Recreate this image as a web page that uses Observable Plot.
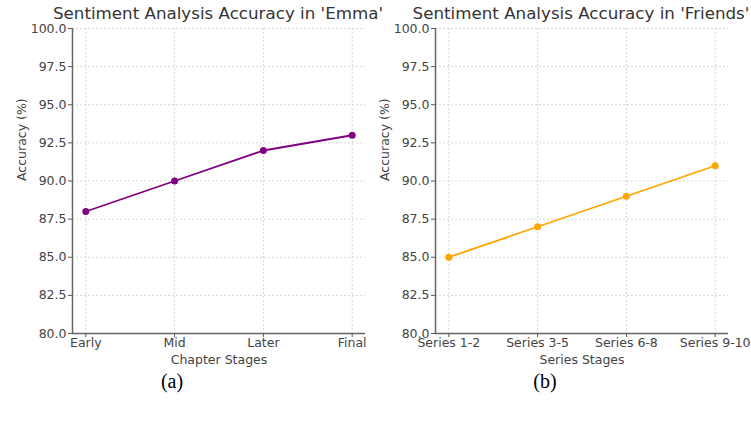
<!DOCTYPE html>
<html>
<head>
<meta charset="utf-8">
<script src="https://cdn.jsdelivr.net/npm/d3@7"></script>
<script src="https://cdn.jsdelivr.net/npm/@observablehq/plot@0.6"></script>
<style>
  html, body { margin: 0; padding: 0; background: #fff; }
  #wrap { position: relative; width: 751px; height: 423px; overflow: hidden; font-family: "DejaVu Sans", sans-serif; }
  .panel { position: absolute; top: 0; }
  .panel svg { overflow: visible; }
  .title { position: absolute; top: 3px; font-size: 16.7px; color: #333; white-space: nowrap; transform: translateX(-50%); }
  .cap { position: absolute; font-family: "Liberation Serif", "Times New Roman", serif; font-size: 20px; color: #000; transform: translate(-50%, -50%); }
</style>
</head>
<body>
<div id="wrap"></div>
<script>
const emmaStages = ["Early", "Mid", "Later", "Final"];
const emmaAccuracy = [88, 90, 92, 93];
const friendsStages = ["Series 1-2", "Series 3-5", "Series 6-8", "Series 9-10"];
const friendsAccuracy = [85, 87, 89, 91];
const yTicks = [80, 82.5, 85, 87.5, 90, 92.5, 95, 97.5, 100];
const titles = ["Sentiment Analysis Accuracy in 'Emma'", "Sentiment Analysis Accuracy in 'Friends'"];
const xLabels = ["Chapter Stages", "Series Stages"];
const captions = ["(a)", "(b)"];

function panel(stages, values, color, xLabel) {
  const data = stages.map((s, i) => ({i, s, v: values[i]}));
  const idx = stages.map((_, i) => i);
  return Plot.plot({
    width: 375,
    height: 370,
    marginLeft: 72,
    marginRight: 10,
    marginTop: 28,
    marginBottom: 37,
    style: {fontFamily: "DejaVu Sans, sans-serif", fontSize: "12.5px", color: "#444", background: "transparent", overflow: "visible"},
    x: {type: "linear", domain: [-0.15, 3.15]},
    y: {domain: [80, 100]},
    marks: [
      Plot.gridX(idx, {stroke: "#ccc", strokeOpacity: 1, strokeDasharray: "2,2", strokeWidth: 0.8}),
      Plot.gridY(yTicks, {stroke: "#ccc", strokeOpacity: 1, strokeDasharray: "2,2", strokeWidth: 0.8}),
      Plot.axisY(yTicks, {tickFormat: d3.format(".1f"), tickSize: 4, tickPadding: 2, stroke: "#555", label: null, fontSize: 12.5}),
      Plot.axisX(idx, {tickFormat: i => stages[i], tickSize: 4, tickPadding: 1, stroke: "#555", label: null, fontSize: 12.5}),
      Plot.ruleY([80], {stroke: "#666", strokeWidth: 1.5}),
      Plot.ruleX([-0.15], {stroke: "#666", strokeWidth: 1.5}),
      Plot.text([xLabel], {frameAnchor: "bottom", lineAnchor: "middle", dy: 26, fontSize: 12.5, fill: "#444"}),
      Plot.text(["Accuracy (%)"], {frameAnchor: "left", lineAnchor: "middle", dx: -51, rotate: -90, fontSize: 12.5, fill: "#444"}),
      Plot.line(data, {x: "i", y: "v", stroke: color, strokeWidth: 1.8}),
      Plot.dot(data, {x: "i", y: "v", fill: color, r: 3.5})
    ]
  });
}

const wrap = document.getElementById("wrap");
const panels = [
  {left: 0, el: panel(emmaStages, emmaAccuracy, "#800080", xLabels[0])},
  {left: 363, el: panel(friendsStages, friendsAccuracy, "#FFA500", xLabels[1])}
];
panels.forEach((p, k) => {
  const d = document.createElement("div");
  d.className = "panel";
  d.style.left = p.left + "px";
  d.appendChild(p.el);
  wrap.appendChild(d);
  const t = document.createElement("div");
  t.className = "title";
  t.textContent = titles[k];
  t.style.left = (p.left + 218) + "px";
  wrap.appendChild(t);
  const c = document.createElement("div");
  c.className = "cap";
  c.textContent = captions[k];
  c.style.left = (p.left + 172 + (k ? 10 : 0)) + "px";
  c.style.top = "381px";
  wrap.appendChild(c);
});
</script>
</body>
</html>
